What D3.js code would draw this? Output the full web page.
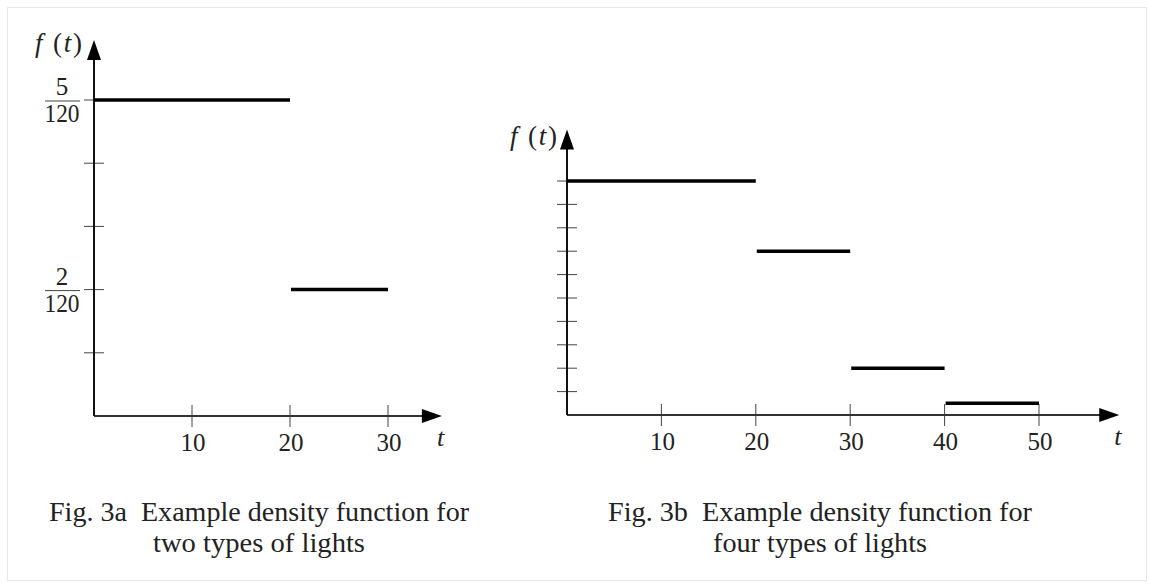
<!DOCTYPE html>
<html>
<head>
<meta charset="utf-8">
<script src="https://cdn.jsdelivr.net/npm/d3@7"></script>
<style>
  body { margin: 0; background: #fff; }
  svg text { font-family: "Liberation Serif", "DejaVu Serif", serif; fill: #222; white-space: pre; }
</style>
</head>
<body>
<svg id="chart" width="1150" height="584"></svg>
<script>
// Fig 3a: two types of lights, f(t) in units of 1/120
const leftStarts = [0, 20]
const leftEnds = [20, 30]
const leftValues = [5, 2]
const leftXTicks = [10, 20, 30]
const leftYTicks = [1, 2, 3, 4, 5]
const leftYLabels = [{ v: 5, num: '5', den: '120' }, { v: 2, num: '2', den: '120' }]

// Fig 3b: four types of lights, f(t) in tick units (no labels)
const rightStarts = [0, 20, 30, 40]
const rightEnds = [20, 30, 40, 50]
const rightValues = [10, 7, 2, 0.5]
const rightXTicks = [10, 20, 30, 40, 50]
const rightYTicks = [1, 2, 3, 4, 5, 6, 7, 8, 9, 10]

const captions = [
    { line1: 'Fig. 3a  Example density function for', line2: 'two types of lights', cx: 259, w1: 420, w2: 212 },
    { line1: 'Fig. 3b  Example density function for', line2: 'four types of lights', cx: 820, w1: 424, w2: 214 }
]

const svg = d3.select('#chart')

// dotted frame
svg.append('rect')
    .attr('x', 7.5).attr('y', 7.5)
    .attr('width', 1139).attr('height', 573)
    .attr('fill', 'none')
    .attr('stroke', '#d0d0d0')
    .attr('stroke-dasharray', '1,1')

function drawPanel(opt) {
    const g = svg.append('g')
    const x = d3.scaleLinear().domain(opt.xDomain).range(opt.xRange)
    const y = d3.scaleLinear().domain(opt.yDomain).range(opt.yRange)
    const x0 = x(0), y0 = y(0)

    // ticks crossing the axes
    g.selectAll('line.xtick')
        .data(opt.xTicks)
        .join('line')
        .attr('class', 'xtick')
        .attr('x1', d => x(d)).attr('x2', d => x(d))
        .attr('y1', y0 - 11).attr('y2', y0 + 11)
        .attr('stroke', '#444').attr('stroke-width', 1)

    g.selectAll('line.ytick')
        .data(opt.yTicks)
        .join('line')
        .attr('class', 'ytick')
        .attr('x1', x0 - 10).attr('x2', x0 + 10)
        .attr('y1', d => y(d)).attr('y2', d => y(d))
        .attr('stroke', '#444').attr('stroke-width', 1)

    // axes with arrow heads
    const xEnd = x(opt.xArrow), yEnd = y(opt.yArrow)
    g.append('line')
        .attr('x1', x0).attr('x2', xEnd - 14)
        .attr('y1', y0).attr('y2', y0)
        .attr('stroke', '#333').attr('stroke-width', 2.2)
    g.append('line')
        .attr('x1', x0).attr('x2', x0)
        .attr('y1', y0).attr('y2', yEnd + 14)
        .attr('stroke', '#111').attr('stroke-width', 2)
    g.append('path')
        .attr('d', `M${xEnd},${y0} L${xEnd - 20},${y0 - 7} L${xEnd - 20},${y0 + 7} Z`)
        .attr('fill', '#000')
    g.append('path')
        .attr('d', `M${x0},${yEnd} L${x0 - 7},${yEnd + 20} L${x0 + 7},${yEnd + 20} Z`)
        .attr('fill', '#000')

    // tick labels
    g.selectAll('text.xlab')
        .data(opt.xTicks)
        .join('text')
        .attr('class', 'xlab')
        .attr('x', d => x(d) + 1)
        .attr('y', y0 + 35)
        .attr('text-anchor', 'middle')
        .attr('font-size', 25)
        .text(d => d)

    // density segments
    g.selectAll('line.seg')
        .data(opt.values)
        .join('line')
        .attr('class', 'seg')
        .attr('x1', (d, i) => x(opt.starts[i]) + (i ? 1 : 0))
        .attr('x2', (d, i) => x(opt.ends[i]))
        .attr('y1', d => y(d)).attr('y2', d => y(d))
        .attr('stroke', '#000').attr('stroke-width', 3.5)

    // axis titles
    const ft = g.append('text')
        .attr('x', opt.fx).attr('y', opt.fy)
        .attr('font-size', 27)
        .attr('textLength', 47)
        .attr('lengthAdjust', 'spacing')
    ft.append('tspan').attr('font-style', 'italic').text('f')
    ft.append('tspan').text(' (')
    ft.append('tspan').attr('font-style', 'italic').text('t')
    ft.append('tspan').text(')')

    g.append('text')
        .attr('x', xEnd - 5).attr('y', y0 + 30)
        .attr('font-size', 26)
        .attr('font-style', 'italic')
        .text('t')

    return { g, x, y }
}

const left = drawPanel({
    xDomain: [0, 30], xRange: [94, 388],
    yDomain: [0, 5], yRange: [416, 100],
    xTicks: leftXTicks, yTicks: leftYTicks,
    xArrow: 35.5, yArrow: 5.95,
    starts: leftStarts, ends: leftEnds, values: leftValues,
    fx: 35, fy: 52
})

// fraction labels on the left y axis
leftYLabels.forEach(l => {
    const yy = left.y(l.v)
    left.g.append('text')
        .attr('x', 62).attr('y', yy - 5)
        .attr('text-anchor', 'middle')
        .attr('font-size', 25)
        .text(l.num)
    left.g.append('line')
        .attr('x1', 45).attr('x2', 80)
        .attr('y1', yy + 1).attr('y2', yy + 1)
        .attr('stroke', '#444').attr('stroke-width', 1)
    left.g.append('text')
        .attr('x', 62).attr('y', yy + 22)
        .attr('text-anchor', 'middle')
        .attr('font-size', 25)
        .attr('textLength', 35)
        .attr('lengthAdjust', 'spacingAndGlyphs')
        .text(l.den)
})

drawPanel({
    xDomain: [0, 50], xRange: [567, 1039],
    yDomain: [0, 10], yRange: [415, 181],
    xTicks: rightXTicks, yTicks: rightYTicks,
    xArrow: 58.5, yArrow: 12.2,
    starts: rightStarts, ends: rightEnds, values: rightValues,
    fx: 510, fy: 145
})

// captions
captions.forEach(c => {
    svg.append('text')
        .attr('x', c.cx).attr('y', 521)
        .attr('text-anchor', 'middle')
        .attr('font-size', 28)
        .attr('textLength', c.w1)
        .attr('lengthAdjust', 'spacingAndGlyphs')
        .text(c.line1)
    svg.append('text')
        .attr('x', c.cx).attr('y', 552)
        .attr('text-anchor', 'middle')
        .attr('font-size', 28)
        .attr('textLength', c.w2)
        .attr('lengthAdjust', 'spacingAndGlyphs')
        .text(c.line2)
})
</script>
</body>
</html>
